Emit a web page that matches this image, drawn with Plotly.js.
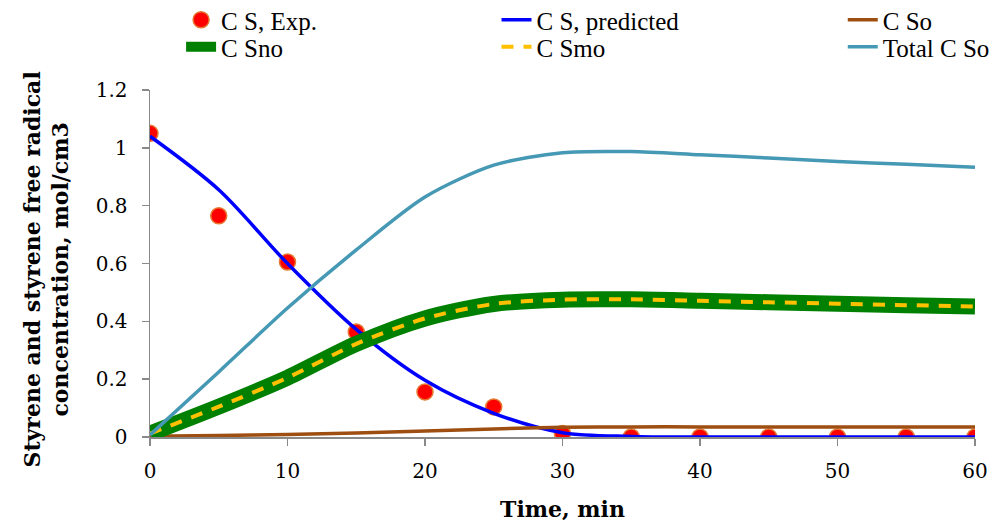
<!DOCTYPE html>
<html>
<head>
<meta charset="utf-8">
<script src="https://cdn.plot.ly/plotly-3.0.1.min.js"></script>
<style>html,body{margin:0;padding:0;background:#fff;}#chart{width:995px;height:525px;}</style>
</head>
<body>
<div id="chart"></div>
<script>
// ---- data ----
const timeMin = [0, 5, 10, 15, 20, 25, 30, 35, 40, 45, 50, 55, 60];
const csExp = [1.05, 0.765, 0.605, 0.363, 0.156, 0.104, 0.012, 0, 0, 0, 0, 0, 0];
const csPredicted = [1.04, 0.855, 0.60, 0.372, 0.196, 0.082, 0.015, 0.002, 0, 0, 0, 0, 0];
const cSo = [0.003, 0.005, 0.009, 0.014, 0.021, 0.028, 0.034, 0.035, 0.035, 0.035, 0.035, 0.035, 0.035];
const cSno = [0.012, 0.105, 0.205, 0.322, 0.41, 0.46, 0.475, 0.476, 0.471, 0.466, 0.461, 0.456, 0.451];
const cSmo = [0.012, 0.105, 0.205, 0.322, 0.41, 0.46, 0.475, 0.476, 0.471, 0.466, 0.461, 0.456, 0.451];
const totalCSo = [0.007, 0.225, 0.446, 0.647, 0.83, 0.94, 0.983, 0.987, 0.976, 0.965, 0.953, 0.943, 0.933];
const seriesNames = ["C S, Exp.", "C S, predicted", "C So", "C Sno", "C Smo", "Total C So"];
const xTicks = [0, 10, 20, 30, 40, 50, 60];
const yTicks = [0, 0.2, 0.4, 0.6, 0.8, 1, 1.2];
const yTickText = ["0", "0.2", "0.4", "0.6", "0.8", "1", "1.2"];
const xTitle = "Time, min";
const yTitle = "Styrene and styrene free radical<br>concentration, mol/cm3";

const traces = [
  {x: timeMin, y: csExp, name: seriesNames[0], type: "scatter", mode: "markers",
   marker: {color: "rgb(255,0,0)", size: 16, line: {color: "rgb(230,120,50)", width: 1.5}},
   legend: "legend"},
  {x: timeMin, y: csPredicted, name: seriesNames[1], type: "scatter", mode: "lines",
   line: {color: "rgb(0,0,255)", width: 3.5, shape: "spline", smoothing: 0.9}, legend: "legend2"},
  {x: timeMin, y: cSo, name: seriesNames[2], type: "scatter", mode: "lines",
   line: {color: "rgb(158,78,16)", width: 3.5, shape: "spline", smoothing: 0.8}, legend: "legend3"},
  {x: timeMin, y: cSno, name: seriesNames[3], type: "scatter", mode: "lines",
   line: {color: "rgb(0,128,0)", width: 16, shape: "spline", smoothing: 0.8}, legend: "legend4"},
  {x: timeMin, y: cSmo, name: seriesNames[4], type: "scatter", mode: "lines",
   line: {color: "rgb(255,192,0)", width: 4, dash: "12px,10px", shape: "spline", smoothing: 0.8}, legend: "legend5"},
  {x: timeMin, y: totalCSo, name: seriesNames[5], type: "scatter", mode: "lines",
   line: {color: "rgb(70,153,180)", width: 3.5, shape: "spline", smoothing: 0.8}, legend: "legend6"}
];

const legendCommon = {
  xref: "container", yref: "container", yanchor: "middle", xanchor: "left",
  orientation: "v", bgcolor: "rgba(0,0,0,0)", borderwidth: 0,
  font: {family: "Liberation Serif, serif", size: 25, color: "#000"},
  tracegroupgap: 0, traceorder: "normal"
};
const row1Y = 1 - 20 / 525, row2Y = 1 - 47 / 525;
const col1X = 0.182, col2X = 0.499, col3X = 0.847;

const layout = {
  width: 995, height: 525,
  paper_bgcolor: "#fff", plot_bgcolor: "#fff",
  margin: {l: 150, r: 20, t: 90, b: 88, autoexpand: false},
  showlegend: true,
  legend:  Object.assign({}, legendCommon, {x: col1X, y: row1Y}),
  legend2: Object.assign({}, legendCommon, {x: col2X, y: row1Y}),
  legend3: Object.assign({}, legendCommon, {x: col3X, y: row1Y}),
  legend4: Object.assign({}, legendCommon, {x: col1X, y: row2Y}),
  legend5: Object.assign({}, legendCommon, {x: col2X, y: row2Y}),
  legend6: Object.assign({}, legendCommon, {x: col3X, y: row2Y}),
  xaxis: {
    range: [0, 60], tickmode: "array", tickvals: xTicks, automargin: true,
    showgrid: false, zeroline: false, showline: true,
    linecolor: "#898989", linewidth: 1.5,
    ticks: "outside", ticklen: 7, tickwidth: 1.5, tickcolor: "#898989",
    ticklabelstandoff: 8,
    tickfont: {family: "DejaVu Serif, serif", size: 20, color: "#000"},
    title: {text: xTitle, standoff: 20, font: {family: "DejaVu Serif, serif", size: 22, color: "#000", weight: "bold"}}
  },
  yaxis: {
    range: [0, 1.2], tickmode: "array", tickvals: yTicks, ticktext: yTickText, automargin: false,
    showgrid: false, zeroline: false, showline: true,
    linecolor: "#898989", linewidth: 1.5,
    ticks: "outside", ticklen: 7, tickwidth: 1.5, tickcolor: "#898989",
    ticklabelstandoff: 10,
    tickfont: {family: "DejaVu Serif, serif", size: 20, color: "#000"}
  },
  annotations: [{
    text: yTitle, xref: "paper", yref: "paper", x: 0, y: 0.5,
    xanchor: "center", yanchor: "middle", xshift: -104, yshift: -6,
    textangle: -90, showarrow: false,
    font: {family: "DejaVu Serif, serif", size: 22, color: "#000", weight: "bold"}
  }]
};

Plotly.newPlot("chart", traces, layout, {displayModeBar: false, staticPlot: true});
</script>
</body>
</html>
